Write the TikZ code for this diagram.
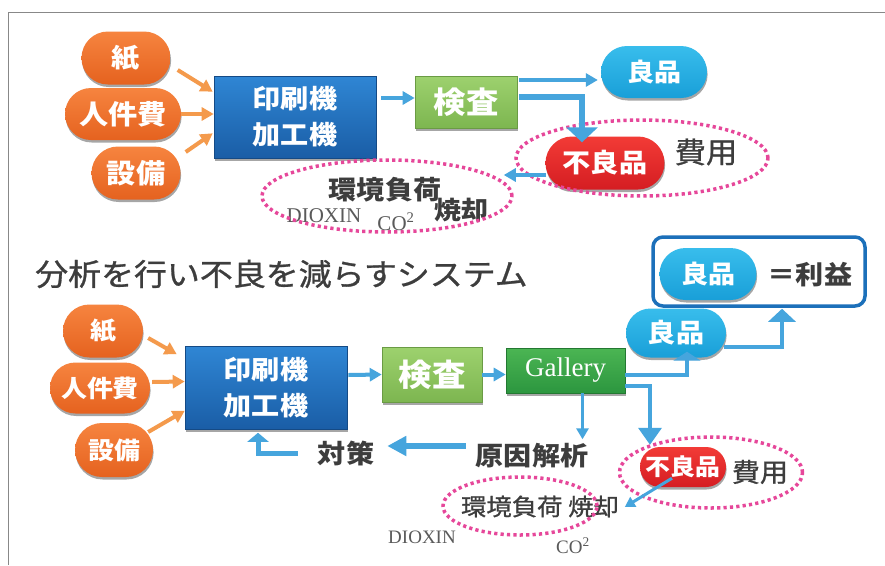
\documentclass[tikz,border=0pt]{standalone}
\usepackage{fontspec}
\newfontfamily\jp[FakeStretch=1.08]{Noto Sans CJK JP}
\newfontfamily\jpm[FakeStretch=1.08,FakeBold=0.9]{Noto Sans CJK JP}
\newfontfamily\serifx{Liberation Serif}
\usetikzlibrary{shapes.misc,shapes.geometric,shadows,arrows.meta,calc}
\definecolor{orgT}{HTML}{F6843F}
\definecolor{orgB}{HTML}{E5621F}
\definecolor{cyaT}{HTML}{38BDEC}
\definecolor{cyaB}{HTML}{199FD8}
\definecolor{redT}{HTML}{F23B36}
\definecolor{redB}{HTML}{D51D22}
\definecolor{bluT}{HTML}{2F86D4}
\definecolor{bluB}{HTML}{1A5DA6}
\definecolor{grnT}{HTML}{9DD16E}
\definecolor{grnB}{HTML}{7DB650}
\definecolor{galT}{HTML}{4BB553}
\definecolor{galB}{HTML}{2C963F}
\definecolor{arrB}{HTML}{46A5DD}
\definecolor{arrO}{HTML}{F49A4C}
\definecolor{pnk}{HTML}{E6479A}
\definecolor{txg}{HTML}{3D3D3D}
\definecolor{frm}{HTML}{888888}
\definecolor{bxb}{HTML}{1C70BA}
\tikzset{
  shd/.style={drop shadow={shadow xshift=0.6pt,shadow yshift=-2.5pt,opacity=0.35,fill=black}},
  pill/.style={rounded rectangle,inner sep=0pt,text=white,shd,
    font=\jp\bfseries\fontsize{26}{30}\selectfont},
  opill/.style={pill,top color=orgT,bottom color=orgB},
  cpill/.style={pill,top color=cyaT,bottom color=cyaB},
  rpill/.style={pill,top color=redT,bottom color=redB},
  sbox/.style={rectangle,inner sep=0pt,text=white,shd,align=center},
  bbox/.style={sbox,top color=bluT,bottom color=bluB,draw=bluB!80!black,line width=0.6pt,
    font=\jp\bfseries\fontsize{26}{36}\selectfont},
  gbox/.style={sbox,top color=grnT,bottom color=grnB,draw=grnB!85!black,line width=0.6pt,
    font=\jp\bfseries\fontsize{30}{34}\selectfont},
  galbox/.style={sbox,top color=galT,bottom color=galB,draw=galB!80!black,line width=0.6pt,
    font=\serifx\fontsize{27}{30}\selectfont},
  btxt/.style={inner sep=0pt,text=txg,font=\jp\bfseries\fontsize{26}{30}\selectfont},
  rtxt/.style={inner sep=0pt,text=txg,font=\jpm\fontsize{26}{30}\selectfont},
  stxt/.style={inner sep=0pt,text=txg!85,font=\serifx\fontsize{21}{24}\selectfont},
  pinkell/.style={ellipse,draw=pnk,line width=3.5pt,dash pattern=on 3.2pt off 3.2pt,inner sep=0pt},
  oarr/.style={draw=arrO,line width=4pt,-{Triangle[length=12pt,width=13pt]}},
  barr/.style={draw=arrB,line width=4pt,-{Triangle[length=12pt,width=13pt]}},
}
\begin{document}
\begin{tikzpicture}[x=1pt,y=-1pt]
\useasboundingbox[fill=white] (0,0) rectangle (885,565);
\draw[frm,line width=1pt] (8,565) -- (8,12) -- (885,12);

% ---------- top diagram ----------
\node[opill,minimum width=89pt,minimum height=53pt] (kami1) at (126,58) {紙};
\node[opill,minimum width=116pt,minimum height=52pt,font=\jp\bfseries\fontsize{27}{30}\selectfont] (jin1) at (123,114) {人件費};
\node[opill,minimum width=89pt,minimum height=53pt,font=\jp\bfseries\fontsize{27}{30}\selectfont] (set1) at (136,173) {設備};
\node[bbox,minimum width=162pt,minimum height=82pt] (ins1) at (295,117) {印刷機\\加工機};
\node[gbox,minimum width=102pt,minimum height=52pt] (ken1) at (466,102) {検査};
\node[cpill,minimum width=106pt,minimum height=52pt,font=\jp\bfseries\fontsize{25}{30}\selectfont] (ryo1) at (654,72) {良品};
\node[rpill,minimum width=119pt,minimum height=53pt] (furyo1) at (605,163) {不良品};
\node[rtxt,font=\jpm\fontsize{29}{32}\selectfont] (hiyo1) at (706,152) {費用};
\node[btxt] (kankyo1) at (385,190) {環境負荷};
\node[btxt,font=\jp\bfseries\fontsize{25}{30}\selectfont] (shoki1) at (461,210) {焼却};
\node[stxt,anchor=base] (diox1) at (324,222) {DIOXIN};
\node[stxt,anchor=base] (co1) at (396,230) {CO\textsuperscript{2}};
\node[pinkell,minimum width=252pt,minimum height=76pt] (ell1) at (642,158) {};
\node[pinkell,minimum width=250pt,minimum height=72pt] (ell2) at (387,196) {};

\draw[oarr] ($(kami1.east)+(7,12)$) -- ($(ins1.north west)+(-1,16)$);
\draw[oarr] (jin1.east) -- (jin1.east -| ins1.west);
\draw[oarr] ($(set1.east)+(5,-21)$) -- ($(ins1.south west)+(-1,-25)$);
\draw[barr] ($(ins1.east)+(5,-19)$) -- ($(ken1.west)+(0,-4)$);
\draw[barr] ($(ken1.east)+(2,-22)$) -- ($(ryo1.west)+(-3,8)$);
\draw[draw=arrB,line width=6pt,-{Triangle[length=15pt,width=31pt]}]
  ($(ken1.east)+(2,-5)$) -| ($(furyo1.north)+(-23,6)$);
\draw[barr] ($(furyo1.west)+(1,12)$) -- ($(ell2.east)+(-10,-21)$);

% ---------- title ----------
\node[inner sep=0pt,anchor=west,text=txg,font=\jpm\fontsize{30.5}{34}\selectfont] (title) at (35,274) {分析を行い不良を減らすシステム};

% ---------- bottom diagram ----------
\node[opill,minimum width=80pt,minimum height=53pt,font=\jp\bfseries\fontsize{24}{30}\selectfont] (kami2) at (103,331) {紙};
\node[opill,minimum width=100pt,minimum height=51pt,font=\jp\bfseries\fontsize{24}{30}\selectfont] (jin2) at (100,388) {人件費};
\node[opill,minimum width=78pt,minimum height=54pt,font=\jp\bfseries\fontsize{24}{30}\selectfont] (set2) at (114,450) {設備};
\node[bbox,minimum width=162pt,minimum height=83pt] (ins2) at (266,388) {印刷機\\加工機};
\node[gbox,minimum width=100pt,minimum height=55pt,font=\jp\bfseries\fontsize{31}{34}\selectfont] (ken2) at (432,374.5) {検査};
\node[galbox,minimum width=119pt,minimum height=45pt] (gal) at (565.5,370.5) {Gallery};
\node[cpill,minimum width=100pt,minimum height=49pt] (ryo2) at (676,333) {良品};
\node[draw=bxb,line width=3.5pt,rounded corners=10pt,minimum width=212pt,minimum height=69pt,inner sep=0pt] (rbox) at (759,271.5) {};
\node[cpill,minimum width=97pt,minimum height=52pt,font=\jp\bfseries\fontsize{25}{30}\selectfont] (ryo3) at (708,274) {良品};
\node[btxt,font=\jp\bfseries\fontsize{26}{30}\selectfont] (rieki) at (810,275) {＝利益};
\node[rpill,minimum width=86pt,minimum height=40pt,font=\jp\bfseries\fontsize{23}{30}\selectfont] (furyo2) at (683,467) {不良品};
\node[rtxt] (hiyo2) at (760,472) {費用};
\node[btxt] (genin) at (532,456) {原因解析};
\node[btxt] (taisaku) at (346,453) {対策};
\node[rtxt,font=\jpm\fontsize{23.5}{28}\selectfont] (kankyo2) at (540,506.5) {環境負荷 焼却};
\node[stxt,anchor=base,font=\serifx\fontsize{19}{22}\selectfont] (diox2) at (422,543) {DIOXIN};
\node[stxt,anchor=base,font=\serifx\fontsize{19}{22}\selectfont] (co2) at (573,553) {CO\textsuperscript{2}};
\node[pinkell,minimum width=183pt,minimum height=71pt] (ell3) at (711,472.5) {};
\node[pinkell,minimum width=154pt,minimum height=58pt] (ell4) at (520,506) {};

\draw[oarr] ($(kami2.east)+(5,7)$) -- ($(ins2.north west)+(-8,8)$);
\draw[oarr] ($(jin2.east)+(2,-6)$) -- ($(ins2.west)+(0,-6.5)$);
\draw[oarr] ($(set2.east)+(-5,-18)$) -- ($(ins2.south west)+(0,-19)$);
\draw[barr] ($(ins2.east)+(1,-13)$) -- (ken2.west);
\draw[barr] (ken2.east) -- (ken2.east -| gal.west);
\draw[draw=arrB,line width=4.5pt,-{Triangle[length=9pt,width=27pt]}]
  ($(gal.east)+(0,4.5)$) -| ($(ryo2.south)+(11,-6)$);
\draw[draw=arrB,line width=4.5pt,-{Triangle[length=13pt,width=27pt]}]
  ($(ryo2.east)+(-2,14)$) -| ($(rbox.south)+(23,1)$);
\draw[draw=arrB,line width=3.5pt,-{Triangle[length=17pt,width=23pt]}]
  ($(gal.east)+(0,15.5)$) -| ($(furyo2.north)+(-33,-2)$);
\draw[draw=arrB,line width=3pt,-{Triangle[length=11pt,width=12pt]}]
  ($(gal.south)+(17,0)$) -- ($(gal.south)+(17,46)$);
\draw[draw=arrB,line width=6pt,-{Triangle[length=19pt,width=19pt]}]
  ($(genin.west)+(-10,-10)$) -- ($(taisaku.east)+(13,-7)$);
\draw[draw=arrB,line width=5pt,-{Triangle[length=9pt,width=21pt]}]
  ($(taisaku.west)+(-20,0)$) -| ($(ins2.south)+(-8,3)$);
\draw[draw=arrB,line width=3pt,-{Triangle[length=10pt,width=11pt]}]
  ($(furyo2.south west)+(12,-9)$) -- ($(ell4.east)+(26,1)$);
\end{tikzpicture}
\end{document}
